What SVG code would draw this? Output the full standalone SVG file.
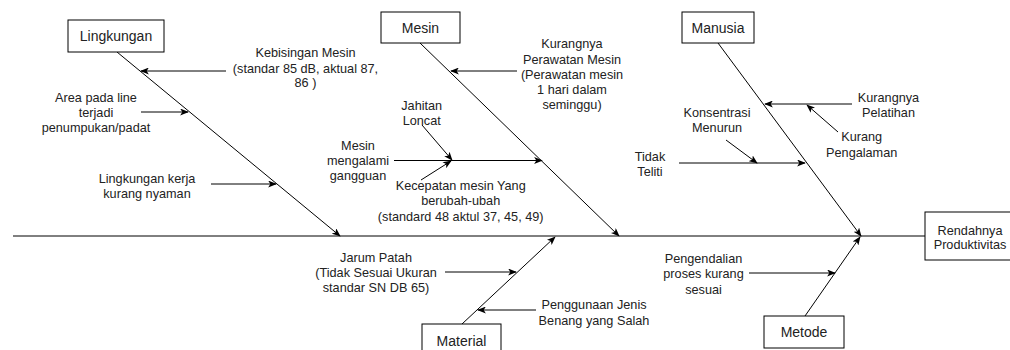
<svg xmlns="http://www.w3.org/2000/svg" width="1010" height="350" viewBox="0 0 1010 350">
<style>
.box{fill:#fff;stroke:#000;stroke-width:1}
.bt{font-family:"Liberation Sans",Arial,sans-serif;font-size:14px;fill:#222;text-anchor:middle}
.t{font-family:"Liberation Sans",Arial,sans-serif;font-size:12.7px;fill:#222;text-anchor:middle}
.ln{stroke:#000;stroke-width:1;fill:none}
.ar{stroke:#000;stroke-width:1;fill:none;marker-end:url(#ah)}
</style>
<defs>
<marker id="ah" viewBox="0 0 10 8" refX="9" refY="4" markerWidth="9" markerHeight="7" orient="auto" markerUnits="userSpaceOnUse">
<path d="M0,0 L10,4 L0,8 L2.5,4 z" fill="#000"/>
</marker>
</defs>
<rect width="1010" height="350" fill="#fff"/>
<g id="connectors">
<line class="ln" x1="13" y1="236" x2="925" y2="236"/>
<line class="ar" x1="117" y1="52" x2="340" y2="236"/>
<line class="ar" x1="420" y1="43" x2="619" y2="236"/>
<line class="ar" x1="718" y1="43" x2="861" y2="236"/>
<line class="ar" x1="462" y1="324" x2="555" y2="237"/>
<line class="ar" x1="805" y1="316" x2="860" y2="237"/>
<line class="ar" x1="226" y1="71" x2="141" y2="71"/>
<line class="ar" x1="141" y1="112" x2="188" y2="112"/>
<line class="ar" x1="211" y1="184" x2="276" y2="184"/>
<line class="ar" x1="517" y1="71" x2="451" y2="71"/>
<line class="ar" x1="422" y1="125" x2="452" y2="160"/>
<line class="ar" x1="394" y1="160.5" x2="542" y2="160.5"/>
<line class="ar" x1="421" y1="180" x2="451" y2="161"/>
<line class="ar" x1="852" y1="104" x2="765" y2="104"/>
<line class="ar" x1="838" y1="132" x2="807" y2="105"/>
<line class="ar" x1="726" y1="140" x2="757" y2="163"/>
<line class="ar" x1="679" y1="163" x2="805" y2="163"/>
<line class="ar" x1="445" y1="272" x2="516" y2="272"/>
<line class="ar" x1="536" y1="310" x2="478" y2="310"/>
<line class="ar" x1="749" y1="273" x2="835" y2="273"/>
</g>
<g id="lingkungan">
<rect class="box" x="68" y="20" width="96" height="32"/>
<text class="bt" x="116" y="41">Lingkungan</text>
</g>
<g id="mesin">
<rect class="box" x="381" y="12" width="79" height="31"/>
<text class="bt" x="420.5" y="32.5">Mesin</text>
</g>
<g id="manusia">
<rect class="box" x="682" y="12" width="72" height="31"/>
<text class="bt" x="718" y="32.5">Manusia</text>
</g>
<g id="material">
<rect class="box" x="422" y="324" width="79" height="32"/>
<text class="bt" x="461.5" y="345.5">Material</text>
</g>
<g id="metode">
<rect class="box" x="764" y="316" width="80" height="32"/>
<text class="bt" x="804" y="337">Metode</text>
</g>
<g id="rendahnya">
<rect class="box" x="925" y="212" width="100" height="48"/>
<text class="t" x="970" y="234.5">Rendahnya</text>
<text class="t" x="970" y="249">Produktivitas</text>
</g>
<g id="labels">
<text class="t" x="305.5" y="57">Kebisingan Mesin</text>
<text class="t" x="305.5" y="72.5">(standar 85 dB, aktual 87,</text>
<text class="t" x="305.5" y="87">86 )</text>
<text class="t" x="96" y="102">Area pada line</text>
<text class="t" x="96" y="117">terjadi</text>
<text class="t" x="96" y="132">penumpukan/padat</text>
<text class="t" x="147" y="183">Lingkungan kerja</text>
<text class="t" x="147" y="197.5">kurang nyaman</text>
<text class="t" x="572" y="48">Kurangnya</text>
<text class="t" x="572" y="63.5">Perawatan Mesin</text>
<text class="t" x="572" y="78.5">(Perawatan mesin</text>
<text class="t" x="572" y="94">1 hari dalam</text>
<text class="t" x="572" y="109">seminggu)</text>
<text class="t" x="421.7" y="109.5">Jahitan</text>
<text class="t" x="421.7" y="124.5">Loncat</text>
<text class="t" x="358" y="150">Mesin</text>
<text class="t" x="358" y="165">mengalami</text>
<text class="t" x="358" y="179.5">gangguan</text>
<text class="t" x="460.7" y="189.5">Kecepatan mesin Yang</text>
<text class="t" x="460.7" y="205">berubah-ubah</text>
<text class="t" x="460.7" y="220.5">(standard 48 aktul 37, 45, 49)</text>
<text class="t" x="888.5" y="102">Kurangnya</text>
<text class="t" x="888.5" y="117">Pelatihan</text>
<text class="t" x="861.7" y="141">Kurang</text>
<text class="t" x="861.7" y="157">Pengalaman</text>
<text class="t" x="717" y="117">Konsentrasi</text>
<text class="t" x="717" y="132">Menurun</text>
<text class="t" x="650" y="160.5">Tidak</text>
<text class="t" x="650" y="176">Teliti</text>
<text class="t" x="376" y="262">Jarum Patah</text>
<text class="t" x="376" y="277">(Tidak Sesuai Ukuran</text>
<text class="t" x="376" y="292">standar SN DB 65)</text>
<text class="t" x="594" y="308.5">Penggunaan Jenis</text>
<text class="t" x="594" y="324.5">Benang yang Salah</text>
<text class="t" x="703.5" y="262.5">Pengendalian</text>
<text class="t" x="703.5" y="278">proses kurang</text>
<text class="t" x="703.5" y="294">sesuai</text>
</g>
</svg>
